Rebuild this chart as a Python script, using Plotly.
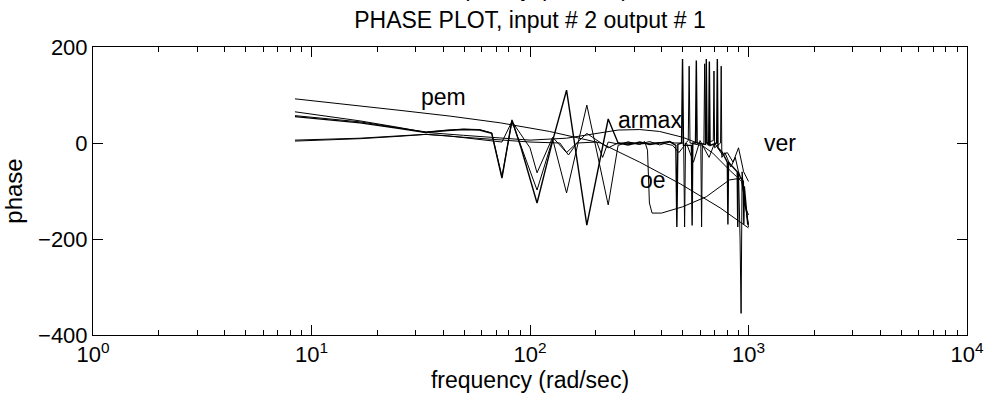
import math
import plotly.graph_objects as go

# ---------------- data ----------------
pem_f = [8.4, 15.0, 25.4, 43.1, 73.1, 123, 210, 318, 487, 741, 1000]
pem_p = [92, 80, 68, 56, 42, 24, 0, -40, -85, -135, -177]

armax_f = [8.4, 16.7, 25.4, 33.4, 49.6, 74.4, 100, 147, 202, 253, 318, 392, 499, 600, 686, 760, 817, 882, 930, 1000]
armax_p = [65, 46, 32, 22, 16, 10, 6, 10, 20, 27, 28, 24, 12, -2, -21, -42, -56, -70, -80, -170]

oe_f = [8.4, 16.7, 25.4, 33.4, 49.6, 74.4, 100, 137, 150, 164, 202, 215, 228, 253, 281, 318, 335, 345, 352, 362, 400, 499, 641, 817, 930, 1000]
oe_p = [6, 10, 15, 18, 12, 6, 2, 0, -25, 0, 2, -30, 2, -2, 2, -3, 3, -15, -125, -146, -146, -133, -112, -77, -73, -175]

n1_f = [8.4, 16.7, 25.4, 33.4, 42, 49.6, 58.7, 66.8, 74.4, 82.7, 91, 107.7, 127, 147, 182, 228, 253, 281, 318, 353,
        392, 436, 465, 470, 475, 494, 499, 504, 548, 552, 556, 572, 577, 582, 636, 641, 646, 657, 662, 667,
        715, 720, 725, 760, 800, 805, 810, 850, 888, 893, 898, 915, 947, 952, 957, 992]
n1_p = [55, 42, 30, 22, 26, 28, 27, 20, -73, 48, -10, -125, 5, 110, -171, 50, 0, -4, 2, -3,
        0, 3, -5, -175, -3, 0, 175, -5, -5, -172, 0, 0, 172, 0, -3, 175, 0, -5, 170, -5,
        0, 175, -10, -20, -40, -170, -40, -50, -60, -175, -60, -70, -80, -170, -90, -170]

n2_f = [8.4, 16.7, 25.4, 33.4, 42, 49.6, 58.7, 66.8, 74.4, 82.7, 107.7, 127, 147, 182, 228, 253, 281, 318, 353,
        392, 436, 460, 505, 510, 515, 530, 535, 540, 605, 610, 615, 625, 630, 635, 690, 695, 700, 745, 750, 755,
        780, 830, 870, 900, 915, 925, 935, 960, 1000]
n2_p = [57, 44, 31, 23, 27, 29, 28, 21, -70, 45, -98, 8, -104, 79, -129, -5, 2, -2, 3,
        -4, 2, 0, 0, -175, 0, 5, 160, 0, -5, -175, -5, 0, 165, 0, 5, 150, -10, 0, 160, -30,
        -20, -50, -30, -60, -200, -355, -60, -130, -150]

n3_f = [8.4, 16.7, 25.4, 33.4, 42, 58.7, 74.4, 82.7, 100, 107.7, 127, 147, 182, 228, 253, 318, 392, 450, 480, 520,
        560, 600, 660, 700, 760, 800, 850, 900, 950, 1000]
n3_p = [4, 9, 14, 18, 15, 8, 2, 45, -10, -62, 12, -20, 20, -10, 0, -2, 1, -5, -20, 0,
        -40, 5, -30, 0, -25, -20, -40, -10, -60, -80]

labels = ["pem", "armax", "oe", "ver"]
label_f = [40, 355, 365, 1400]
label_p = [96, 48, -77, 0]

xtick_vals = [1, 10, 100, 1000, 10000]
xtick_text = ["10<sup>0</sup>", "10<sup>1</sup>", "10<sup>2</sup>", "10<sup>3</sup>", "10<sup>4</sup>"]
ytick_vals = [-400, -200, 0, 200]
ytick_text = ["\u2212400", "\u2212200", "0", "200"]
minor_vals = [m * d for d in [1, 10, 100, 1000] for m in range(2, 10)]

# ---------------- figure ----------------
fig = go.Figure()
series = [(pem_f, pem_p, 1.0), (armax_f, armax_p, 1.0), (oe_f, oe_p, 1.0),
          (n1_f, n1_p, 1.4), (n2_f, n2_p, 1.0), (n3_f, n3_p, 1.0)]
for fx, py, w in series:
    fig.add_trace(go.Scatter(x=fx, y=py, mode="lines", line=dict(color="black", width=w),
                             showlegend=False, hoverinfo="skip"))

font_main = "Liberation Sans, Arial, Helvetica, sans-serif"
for t, fx, py in zip(labels, label_f, label_p):
    fig.add_annotation(x=math.log10(fx), y=py, text=t, showarrow=False,
                       font=dict(family=font_main, size=23, color="black"))

fig.add_annotation(xref="paper", yref="paper", x=0.5, y=1.204, text="frequency (rad/sec)", showarrow=False,
                   yanchor="middle", font=dict(family=font_main, size=23, color="black"))

fig.update_layout(
    width=986, height=406,
    margin=dict(l=93, r=19, t=47, b=71),
    paper_bgcolor="white", plot_bgcolor="white",
    font=dict(family=font_main, size=22, color="black"),
    title=dict(text="PHASE PLOT, input # 2 output # 1", xref="paper", x=0.5, xanchor="center",
               y=0.95, yanchor="middle", font=dict(family=font_main, size=23, color="black")),
)
fig.update_xaxes(type="log", range=[0, 4], tickvals=xtick_vals, ticktext=xtick_text, automargin=False,
                 ticks="inside", ticklen=10, tickcolor="black", showline=True, linecolor="black", linewidth=1,
                 mirror="ticks", showgrid=False, zeroline=False,
                 minor=dict(tickvals=minor_vals, ticks="inside", ticklen=5, tickcolor="black", showgrid=False),
                 title=dict(text="frequency (rad/sec)", standoff=4, font=dict(size=23)),
                 tickfont=dict(size=22))
fig.update_yaxes(range=[-400, 200], tickvals=ytick_vals, ticktext=ytick_text, automargin=False,
                 ticks="inside", ticklen=10, tickcolor="black", showline=True, linecolor="black", linewidth=1,
                 mirror="ticks", showgrid=False, zeroline=False,
                 title=dict(text="phase", standoff=8, font=dict(size=24)),
                 tickfont=dict(size=22))

fig.write_html("out.html")
